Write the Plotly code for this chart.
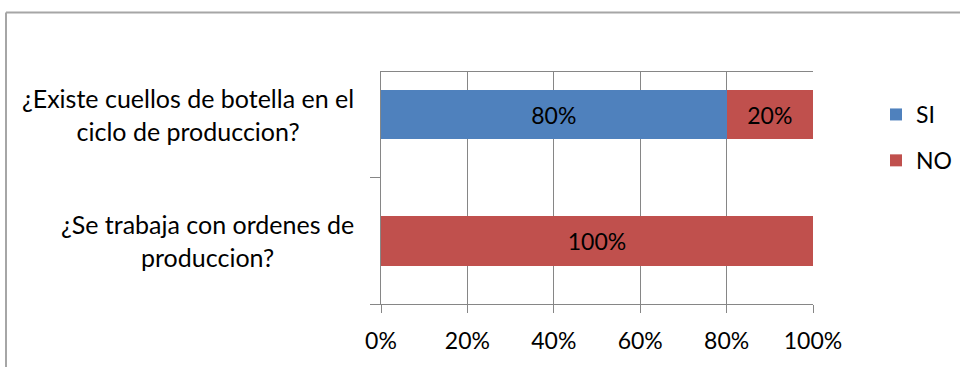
import plotly.graph_objects as go

categories = ["¿Existe cuellos de botella en el<br>ciclo de produccion?",
              "¿Se trabaja con ordenes de<br>produccion?"]
si_values = [80, 0]
no_values = [20, 100]
tick_vals = [0, 20, 40, 60, 80, 100]
tick_text = ["0%", "20%", "40%", "60%", "80%", "100%"]
boundary_vals = [0.5, 1.5]

FONT = "Lato"
FS = 23
W, H = 960, 367
L, R, T, B = 381, 147, 72, 63
pw, ph = W - L - R, H - T - B
Y_RANGE = [1.5, -0.34]

def lab(vals):
    return [f"{v}%" if v else "" for v in vals]

fig = go.Figure()
fig.add_trace(go.Bar(y=categories, x=si_values, name="SI", orientation="h",
                     marker=dict(color="#4f81bd", line=dict(width=0)),
                     text=lab(si_values), textposition="inside", insidetextanchor="middle",
                     textfont=dict(color="#000000", size=FS, family=FONT),
                     legendgroup="a", width=0.39))
fig.add_trace(go.Bar(y=categories, x=no_values, name="NO", orientation="h",
                     marker=dict(color="#c0504d", line=dict(width=0)),
                     text=lab(no_values), textposition="inside", insidetextanchor="middle",
                     textfont=dict(color="#000000", size=FS, family=FONT),
                     legendgroup="b", width=0.39))
# empty helper trace so the boundary-tick axis is drawn
fig.add_trace(go.Scatter(x=[], y=[], yaxis="y2", showlegend=False, hoverinfo="skip"))

for c in categories:
    fig.add_annotation(xref="paper", yref="y", x=(356 - L) / pw, y=c, text=c,
                       xanchor="right", yanchor="middle", align="center", showarrow=False,
                       font=dict(size=25, family=FONT, color="#000000"))

# chart border (left and top)
bx = (6 - L) / pw
by = (H - B - 12.5) / ph
fig.add_shape(type="line", xref="paper", yref="paper", x0=bx, x1=2, y0=by, y1=by,
              line=dict(color="#a6a6a6", width=2))
fig.add_shape(type="line", xref="paper", yref="paper", x0=bx, x1=bx, y0=by, y1=-1,
              line=dict(color="#a6a6a6", width=2))

fig.update_layout(
    width=W, height=H, barmode="stack",
    margin=dict(l=L, r=R, t=T, b=B, autoexpand=False),
    plot_bgcolor="white", paper_bgcolor="white",
    font=dict(family=FONT, size=FS, color="#000000"),
    legend=dict(x=(876 - L) / pw, y=(H - B - 93) / ph, xanchor="left", yanchor="top",
                traceorder="grouped", tracegroupgap=13, font=dict(size=FS, family=FONT),
                itemwidth=30),
    showlegend=True,
    yaxis2=dict(overlaying="y", range=Y_RANGE, autorange=False, tickvals=boundary_vals,
                showticklabels=False, ticks="outside", ticklen=10, tickcolor="#868686",
                showgrid=False, zeroline=False, showline=False, side="left"),
)
fig.update_xaxes(range=[0, 100], tickvals=tick_vals, ticktext=tick_text,
                 showgrid=True, gridcolor="#868686", gridwidth=1,
                 showline=True, linecolor="#868686", linewidth=1, mirror=True,
                 ticks="outside", ticklen=8, tickcolor="#868686", zeroline=False,
                 ticklabelstandoff=8, tickfont=dict(size=FS, family=FONT))
fig.layout.yaxis.update(showticklabels=False, showline=True, linecolor="#868686",
                        linewidth=1, ticks="", showgrid=False,
                        range=Y_RANGE, autorange=False)

fig.write_html("out.html", post_script="document.body.style.margin='0';",
               config={"displayModeBar": False})
